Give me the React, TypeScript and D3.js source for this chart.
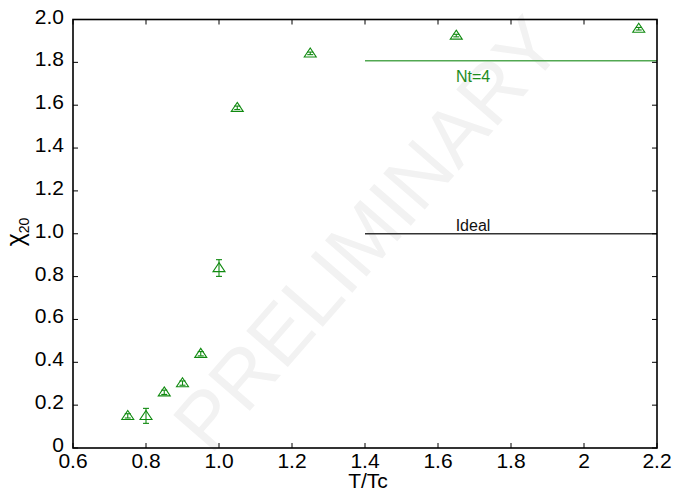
import React, { useEffect, useRef } from "react";
import * as d3 from "d3";

const temps = [0.75, 0.8, 0.85, 0.9, 0.95, 1.0, 1.05, 1.25, 1.65, 2.15];
const chi20 = [0.15, 0.15, 0.26, 0.303, 0.44, 0.84, 1.588, 1.842, 1.925, 1.957];
const chiErr = [0.01, 0.035, 0.01, 0.01, 0.01, 0.039, 0.008, 0.006, 0.006, 0.006];

const xTicks = [0.6, 0.8, 1.0, 1.2, 1.4, 1.6, 1.8, 2.0, 2.2];
const xTickLabels = ["0.6", "0.8", "1.0", "1.2", "1.4", "1.6", "1.8", "2", "2.2"];
const yTicks = [0, 0.2, 0.4, 0.6, 0.8, 1.0, 1.2, 1.4, 1.6, 1.8, 2.0];
const yTickLabels = ["0", "0.2", "0.4", "0.6", "0.8", "1.0", "1.2", "1.4", "1.6", "1.8", "2.0"];

const refLines = [
  { label: "Nt=4", value: 1.808, from: 1.4, to: 2.2, color: "#52a852", text: "#1e8c1e" },
  { label: "Ideal", value: 1.0, from: 1.4, to: 2.2, color: "#333333", text: "#111111" },
];

export default function App() {
  const svgRef = useRef(null);

  useEffect(() => {
    if (!svgRef.current) return;
    const left = 73, right = 657, top = 19.5, bottom = 448;

    const svg = d3.select(svgRef.current);
    svg.selectAll("*").remove();

    const x = d3.scaleLinear().domain([0.6, 2.2]).range([left, right]);
    const y = d3.scaleLinear().domain([0, 2]).range([bottom, top]);
    const font = "'Liberation Sans', Arial, sans-serif";

    // watermark
    svg
      .append("text")
      .attr("transform", `translate(372,238) rotate(-49)`)
      .attr("text-anchor", "middle")
      .attr("dominant-baseline", "middle")
      .attr("font-family", font)
      .attr("font-size", 80)
      .attr("fill", "#f2f2f2")
      .text("PRELIMINARY");

    // reference lines
    refLines.forEach((r) => {
      svg
        .append("line")
        .attr("x1", x(r.from))
        .attr("x2", x(r.to))
        .attr("y1", y(r.value))
        .attr("y2", y(r.value))
        .attr("stroke", r.color)
        .attr("stroke-width", 1.5);
    });
    svg
      .append("text")
      .attr("x", 473)
      .attr("y", y(1.808) + 21)
      .attr("text-anchor", "middle")
      .attr("font-family", font)
      .attr("font-size", 16)
      .attr("fill", refLines[0].text)
      .text(refLines[0].label);
    svg
      .append("text")
      .attr("x", 473)
      .attr("y", y(1.0) - 3)
      .attr("text-anchor", "middle")
      .attr("font-family", font)
      .attr("font-size", 16)
      .attr("fill", refLines[1].text)
      .text(refLines[1].label);

    // frame
    svg
      .append("rect")
      .attr("x", left)
      .attr("y", top)
      .attr("width", right - left)
      .attr("height", bottom - top)
      .attr("fill", "none")
      .attr("stroke", "#000")
      .attr("stroke-width", 1.6);

    const tl = 5;
    xTicks.forEach((t, i) => {
      const px = x(t);
      svg.append("line").attr("x1", px).attr("x2", px).attr("y1", bottom).attr("y2", bottom - tl).attr("stroke", "#000");
      svg.append("line").attr("x1", px).attr("x2", px).attr("y1", top).attr("y2", top + tl).attr("stroke", "#000");
      svg
        .append("text")
        .attr("x", px)
        .attr("y", bottom + 20)
        .attr("text-anchor", "middle")
        .attr("font-family", font)
        .attr("font-size", 21)
        .text(xTickLabels[i]);
    });
    yTicks.forEach((t, i) => {
      const py = y(t);
      svg.append("line").attr("x1", left).attr("x2", left + tl).attr("y1", py).attr("y2", py).attr("stroke", "#000");
      svg.append("line").attr("x1", right).attr("x2", right - tl).attr("y1", py).attr("y2", py).attr("stroke", "#000");
      svg
        .append("text")
        .attr("x", left - 9)
        .attr("y", py + 4)
        .attr("text-anchor", "end")
        .attr("font-family", font)
        .attr("font-size", 21)
        .text(yTickLabels[i]);
    });

    svg
      .append("text")
      .attr("x", 368)
      .attr("y", 488)
      .attr("text-anchor", "middle")
      .attr("font-family", font)
      .attr("font-size", 21)
      .text("T/Tc");

    const yl = svg
      .append("text")
      .attr("transform", `translate(24,232) rotate(-90)`)
      .attr("text-anchor", "middle")
      .attr("font-family", font)
      .attr("font-size", 25);
    yl.append("tspan").text("\u03c7");
    yl.append("tspan").attr("font-size", 14).attr("dy", 5).text("20");

    // data points with error bars
    const g = svg.append("g").attr("stroke", "#108a10").attr("fill", "none").attr("stroke-width", 1.1);
    temps.forEach((t, i) => {
      const px = x(t);
      const py = y(chi20[i]);
      const y1 = y(chi20[i] + chiErr[i]);
      const y2 = y(chi20[i] - chiErr[i]);
      g.append("line").attr("x1", px).attr("x2", px).attr("y1", y1).attr("y2", y2);
      g.append("line").attr("x1", px - 3).attr("x2", px + 3).attr("y1", y1).attr("y2", y1);
      g.append("line").attr("x1", px - 3).attr("x2", px + 3).attr("y1", y2).attr("y2", y2);
      const h = 9, w = 6;
      g.append("path").attr("d", `M${px},${py - h * 0.6}L${px + w},${py + h * 0.4}L${px - w},${py + h * 0.4}Z`);
    });
  }, []);

  return <svg ref={svgRef} width={681} height={491} style={{ display: "block", position: "absolute", left: 0, top: 0, background: "#fff" }} />;
}
